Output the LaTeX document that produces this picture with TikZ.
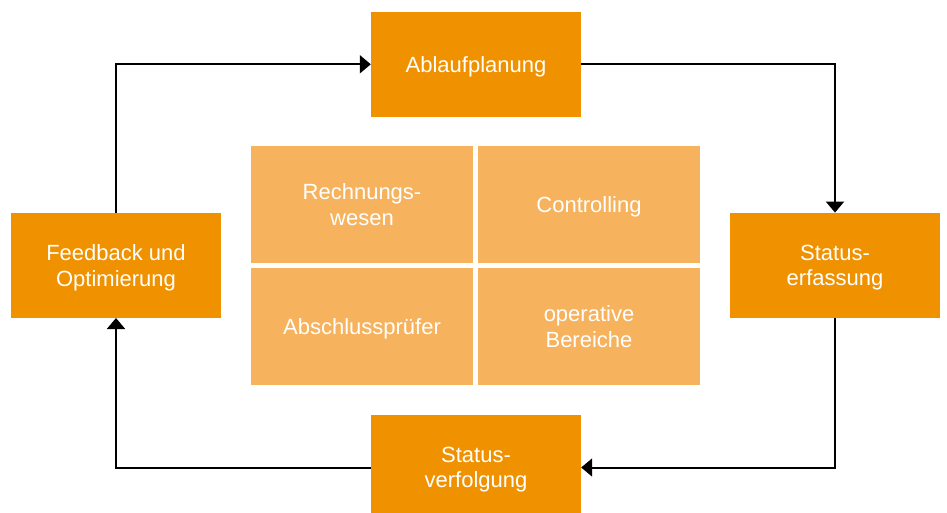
\documentclass[tikz,border=0pt]{standalone}
\usepackage{fontspec}
\setmainfont{Liberation Sans}
\usetikzlibrary{arrows.meta}
\definecolor{stepfill}{HTML}{F09100}
\definecolor{areafill}{HTML}{F7B25D}
\begin{document}
\begin{tikzpicture}[x=1pt,y=-1pt,
  boxtext/.style={text=white,inner sep=0pt,align=center,text depth=0pt,
    font=\fontsize{22pt}{25.6pt}\selectfont},
  twolines/.style={text depth=-3.5pt},
  stepbox/.style={rectangle,fill=stepfill,boxtext,
    minimum width=210pt,minimum height=105pt},
  areabox/.style={rectangle,fill=areafill,boxtext,
    minimum width=222pt,minimum height=116.5pt},
  flow/.style={draw=black,line width=2pt,
    -{Triangle[width=18pt,length=11pt]}}]
\useasboundingbox[clip] (0,0) rectangle (947,513);
\fill[white] (0,0) rectangle (947,513);

% process steps around the cycle
\node[stepbox] (plan) at (476,64.3) {Ablaufplanung};
\node[stepbox,twolines] (capture) at (835,265.3) {Status-\\erfassung};
\node[stepbox,twolines] (track) at (476,467.5) {Status-\\verfolgung};
\node[stepbox,twolines] (feedback) at (116,265.3) {Feedback und\\Optimierung};

% involved areas in the middle
\node[areabox,twolines] (acct) at (362,204.3) {Rechnungs-\\wesen};
\node[areabox] (ctrl) at (589,204.3) {Controlling};
\node[areabox] (audit) at (362,326.3) {Abschlussprüfer};
\node[areabox,twolines] (ops) at (589,326.3) {operative\\Bereiche};

% cycle connectors
\draw[flow] (plan.east) -| (capture.north);
\draw[flow] (capture.south) |- (track.east);
\draw[flow] (track.west) -| (feedback.south);
\draw[flow] (feedback.north) |- (plan.west);
\end{tikzpicture}
\end{document}
